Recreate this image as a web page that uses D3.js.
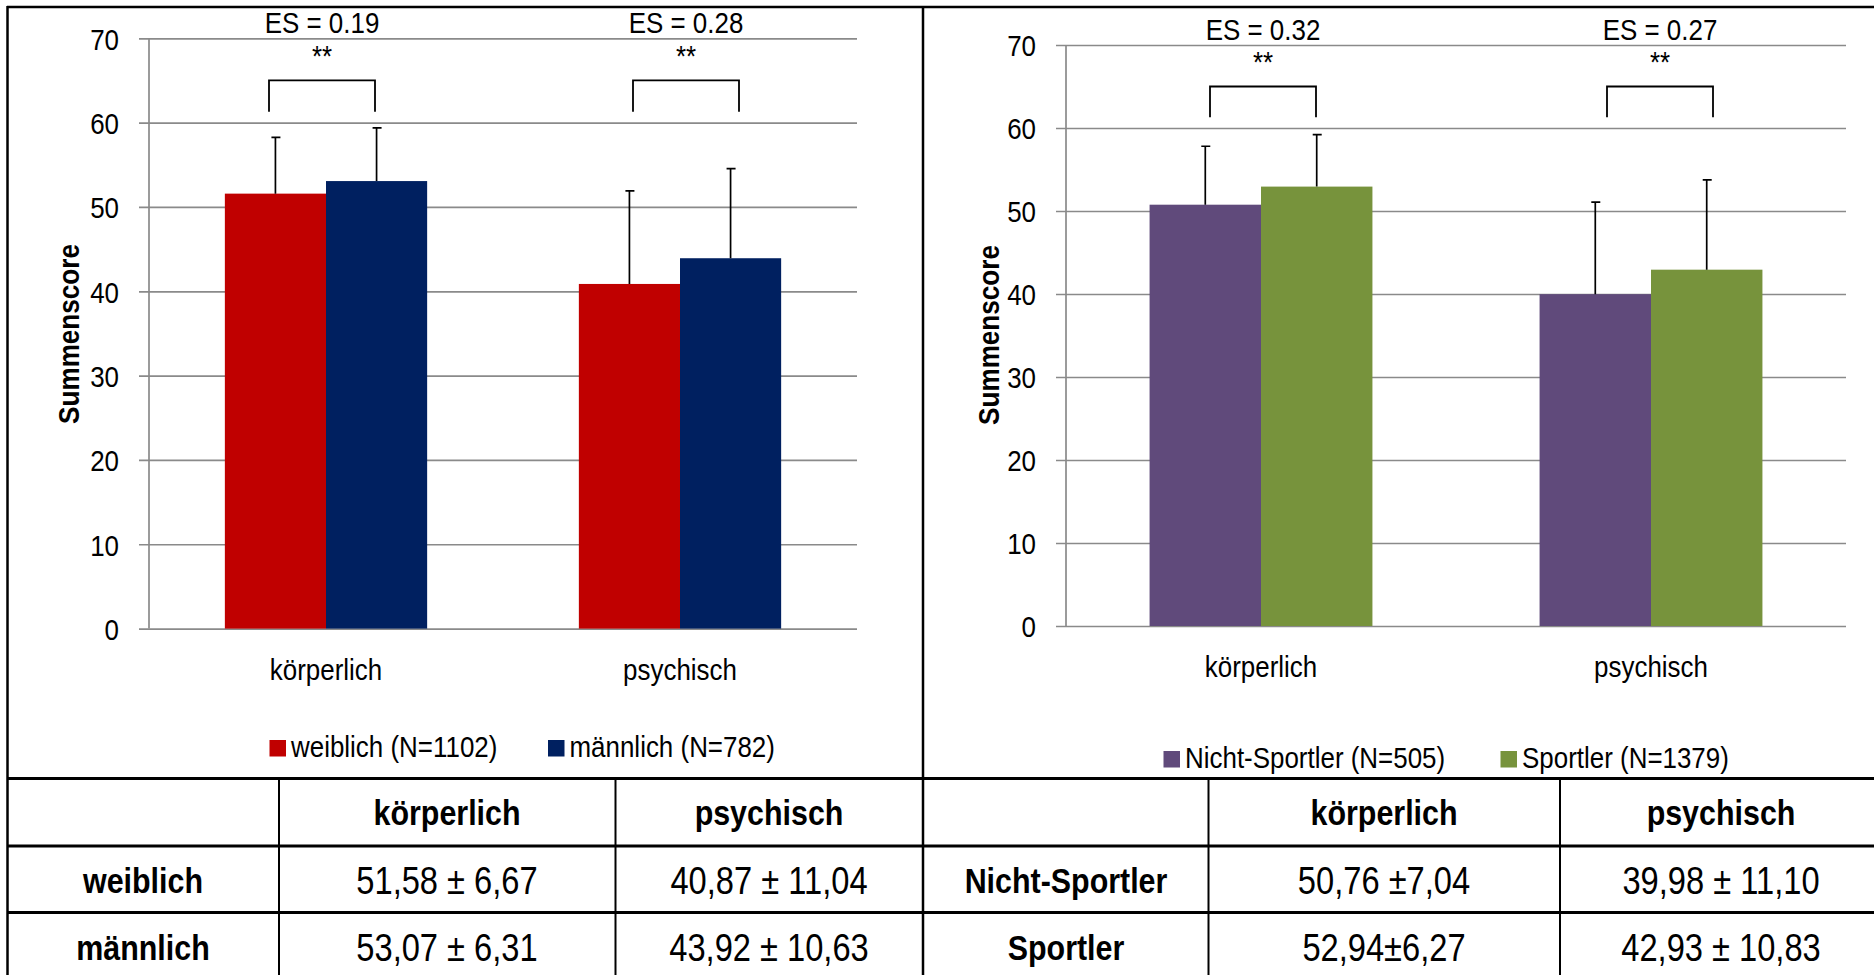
<!DOCTYPE html>
<html>
<head>
<meta charset="utf-8">
<script src="https://cdn.jsdelivr.net/npm/d3@7"></script>
<style>
  body { margin: 0; background: #fff; }
  text { font-family: 'Liberation Sans', Arial, sans-serif; fill: #000; }
</style>
</head>
<body>
<script>
// --- data ---
const categories = ['körperlich', 'psychisch'];
const yTicks = [0, 10, 20, 30, 40, 50, 60, 70];

const genderSeries = ['weiblich (N=1102)', 'männlich (N=782)'];
const meanWeiblich = [51.58, 40.87];
const sdWeiblich = [6.67, 11.04];
const meanMaennlich = [53.07, 43.92];
const sdMaennlich = [6.31, 10.63];
const esGender = ['ES = 0.19', 'ES = 0.28'];

const sportSeries = ['Nicht-Sportler (N=505)', 'Sportler (N=1379)'];
const meanNicht = [50.76, 39.98];
const sdNicht = [7.04, 11.10];
const meanSportler = [52.94, 42.93];
const sdSportler = [6.27, 10.83];
const esSport = ['ES = 0.32', 'ES = 0.27'];

const sigMarks = ['**', '**'];

const tableGender = [
  ['', 'körperlich', 'psychisch'],
  ['weiblich', '51,58 ± 6,67', '40,87 ± 11,04'],
  ['männlich', '53,07 ± 6,31', '43,92 ± 10,63']
];
const tableSport = [
  ['', 'körperlich', 'psychisch'],
  ['Nicht-Sportler', '50,76 ±7,04', '39,98 ± 11,10'],
  ['Sportler', '52,94±6,27', '42,93 ± 10,83']
];

// --- setup ---
const W = 1874, H = 975;
const SX = 0.865; // narrow-looking chart font
const FS = 30;
const svg = d3.select('body').append('svg').attr('width', W).attr('height', H);

function label(g, x, y, str, o = {}) {
  return g.append('text')
    .attr('transform', `translate(${x},${y}) scale(${o.sx || 1},1)`)
    .attr('text-anchor', o.anchor || 'middle')
    .style('font-size', (o.size || FS) + 'px')
    .style('font-weight', o.weight || 'normal')
    .text(str);
}

function drawChart(cfg) {
  const g = svg.append('g');
  const x = d3.scaleBand().domain(categories).range([cfg.x0, cfg.x1]);
  const y = d3.scaleLinear().domain([0, 70]).range([cfg.yb, cfg.yt]);
  const bw = x.bandwidth() / 3.5;
  const inner = d3.scaleBand().domain([0, 1]).range([0, 2 * bw]);
  const off = x.bandwidth() * 0.75 / 3.5;

  // gridlines + tick labels
  const axis = g.append('g')
    .attr('transform', `translate(${cfg.x0 - 10},0)`)
    .call(d3.axisLeft(y).tickValues(yTicks).tickSizeInner(-(cfg.x1 - cfg.x0 + 10)).tickSizeOuter(0));
  axis.select('.domain').remove();
  axis.selectAll('line').attr('stroke', '#8a8a8a').attr('stroke-width', 1.7);
  axis.selectAll('text')
    .attr('x', null).attr('dy', '0.36em')
    .attr('transform', `translate(-20,0) scale(${SX},1)`)
    .style('font-size', FS + 'px').attr('fill', '#000').attr('font-family', null);
  g.append('line')
    .attr('x1', cfg.x0).attr('x2', cfg.x0).attr('y1', y(70)).attr('y2', y(0))
    .attr('stroke', '#8a8a8a').attr('stroke-width', 1.7);

  // bars
  const series = [
    { means: cfg.meansA, sds: cfg.sdsA, color: cfg.colors[0] },
    { means: cfg.meansB, sds: cfg.sdsB, color: cfg.colors[1] }
  ];
  series.forEach((s, si) => {
    const cx = c => x(c) + off + inner(si) + bw / 2;
    g.selectAll(null).data(categories).join('rect')
      .attr('x', c => x(c) + off + inner(si))
      .attr('width', inner.bandwidth())
      .attr('y', (c, i) => y(s.means[i]))
      .attr('height', (c, i) => y(0) - y(s.means[i]))
      .attr('fill', s.color);
    // error bars (upper only)
    g.selectAll(null).data(categories).join('path')
      .attr('d', (c, i) => {
        const top = y(s.means[i] + s.sds[i]);
        return `M${cx(c)},${y(s.means[i])}V${top}M${cx(c) - 4},${top}H${cx(c) + 5}`;
      })
      .attr('stroke', '#000').attr('stroke-width', 1.7).attr('fill', 'none');
  });

  // significance brackets, stars and effect sizes
  const mid = (c, i) => x(c) + x.bandwidth() / 2 + cfg.shift[i];
  g.selectAll(null).data(categories).join('path')
    .attr('d', (c, i) => {
      const m = mid(c, i);
      return `M${m - 53},${y(61.3)}V${y(65)}H${m + 53}V${y(61.3)}`;
    })
    .attr('stroke', '#000').attr('stroke-width', 1.8).attr('fill', 'none');
  categories.forEach((c, i) => {
    label(g, mid(c, i), y(66.7), sigMarks[i], { sx: SX });
    label(g, mid(c, i), y(70.6), cfg.es[i], { sx: SX });
    label(g, x(c) + x.bandwidth() / 2, y(0) + 51, c, { sx: SX });
  });

  // y title
  g.append('text')
    .attr('transform', `translate(${cfg.titleX},${cfg.titleY}) rotate(-90) scale(0.87,1)`)
    .attr('text-anchor', 'middle')
    .style('font-size', '30px').style('font-weight', 'bold')
    .text('Summenscore');

  // legend
  cfg.legend.forEach((name, i) => {
    const lx = cfg.legendX[i];
    g.append('rect').attr('x', lx).attr('y', cfg.legendY - 17)
      .attr('width', 16.5).attr('height', 16.5).attr('fill', cfg.colors[i]);
    label(g, lx + 21.5, cfg.legendY, name, { sx: SX, anchor: 'start' });
  });
}

drawChart({
  x0: 149, x1: 857, yb: 628.6, yt: 38.3, shift: [-4, 6],
  meansA: meanWeiblich, sdsA: sdWeiblich, meansB: meanMaennlich, sdsB: sdMaennlich,
  colors: ['#C00000', '#002060'], es: esGender,
  titleX: 79, titleY: 334,
  legend: genderSeries, legendX: [269.5, 548], legendY: 757
});

drawChart({
  x0: 1066, x1: 1846, yb: 626, yt: 45, shift: [2, 9],
  meansA: meanNicht, sdsA: sdNicht, meansB: meanSportler, sdsB: sdSportler,
  colors: ['#604A7B', '#77933C'], es: esSport,
  titleX: 999, titleY: 335,
  legend: sportSeries, legendX: [1163.5, 1500.5], legendY: 768
});

// --- frame and tables ---
const frame = svg.append('g').attr('stroke', '#000').attr('fill', 'none');
frame.append('line').attr('x1', 7).attr('x2', W).attr('y1', 7).attr('y2', 7).attr('stroke-width', 2.5);
frame.append('line').attr('x1', 7.5).attr('x2', 7.5).attr('y1', 6).attr('y2', H).attr('stroke-width', 2.5);
frame.append('line').attr('x1', 923).attr('x2', 923).attr('y1', 6).attr('y2', H).attr('stroke-width', 2.5);

const rowLines = [778.5, 846, 912.5];
const rowCenters = [812, 880, 947];
rowLines.forEach(ry => {
  frame.append('line').attr('x1', 7).attr('x2', W).attr('y1', ry).attr('y2', ry).attr('stroke-width', 3);
});

function drawTable(rows, colEdges, colCenters) {
  colEdges.forEach(cx => {
    frame.append('line').attr('x1', cx).attr('x2', cx).attr('y1', rowLines[0]).attr('y2', H).attr('stroke-width', 2);
  });
  const tg = svg.append('g');
  rows.forEach((row, ri) => {
    row.forEach((cell, ci) => {
      if (!cell) return;
      const bold = ri === 0 || ci === 0;
      label(tg, colCenters[ci], rowCenters[ri], cell,
        bold ? { size: 36, sx: 0.845, weight: 'bold' } : { size: 38, sx: 0.86 })
        .attr('dy', '0.36em');
    });
  });
}
drawTable(tableGender, [279, 615.5], [143, 447, 769]);
drawTable(tableSport, [1208.5, 1560], [1066, 1384, 1721]);
</script>
</body>
</html>
